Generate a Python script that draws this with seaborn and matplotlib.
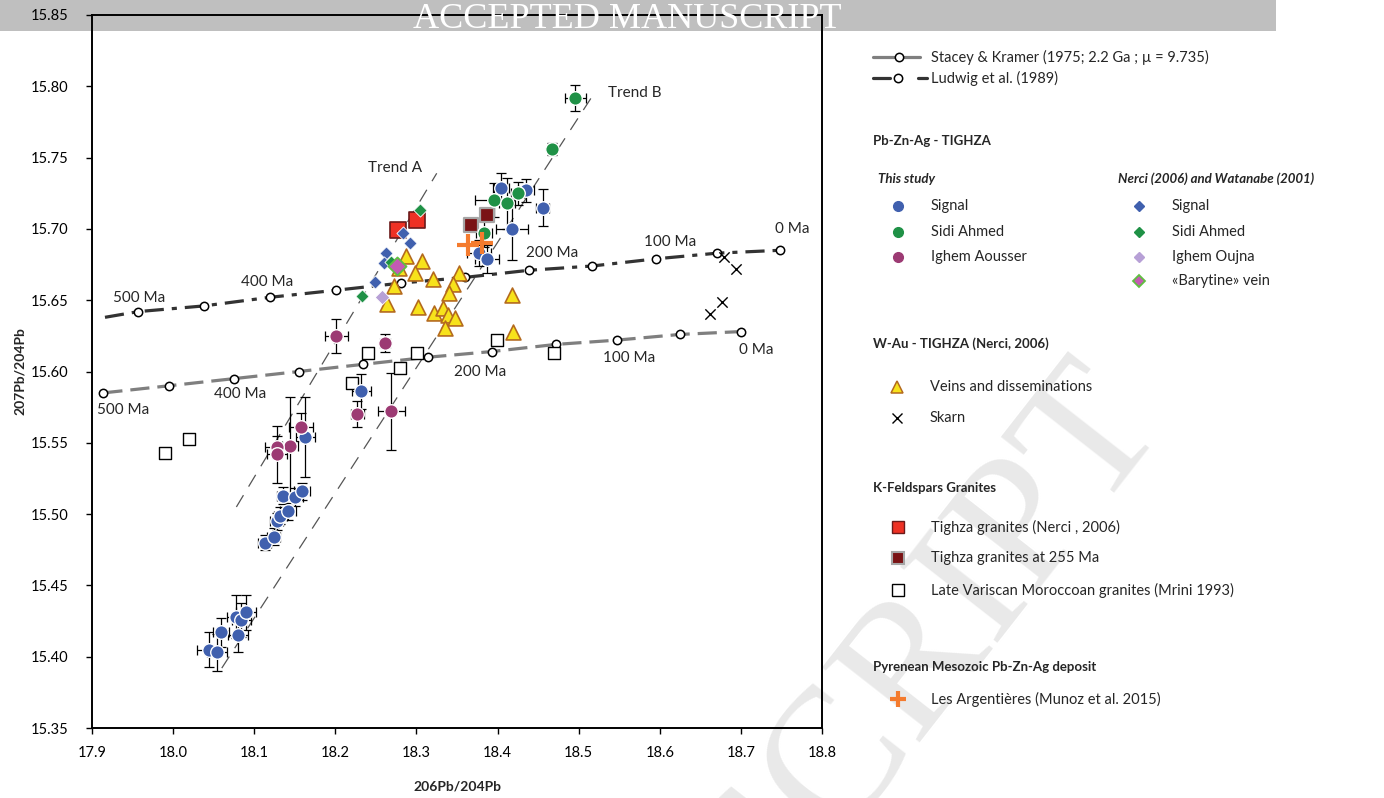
import numpy as np
import pandas as pd
import matplotlib.pyplot as plt
import seaborn as sns
from matplotlib.patches import Rectangle

# Pb growth curves, 500 Ma -> 0 Ma, 50 Ma steps
sk_x = [17.914, 17.995, 18.075, 18.155, 18.234, 18.314, 18.393, 18.472, 18.547, 18.625, 18.700]
sk_y = [15.585, 15.590, 15.595, 15.600, 15.605, 15.610, 15.614, 15.619, 15.622, 15.626, 15.628]
lud_x = [17.916, 17.957, 18.038, 18.119, 18.201, 18.281, 18.360, 18.439, 18.517, 18.595, 18.671, 18.748]
lud_y = [15.638, 15.642, 15.646, 15.652, 15.657, 15.662, 15.666, 15.671, 15.674, 15.679, 15.683, 15.685]

sk_labels = ["500 Ma", "400 Ma", "200 Ma", "100 Ma", "0 Ma"]
sk_lab_x = [17.938, 18.083, 18.378, 18.562, 18.719]
sk_lab_y = [15.573, 15.584, 15.600, 15.6095, 15.615]
lud_labels = ["500 Ma", "400 Ma", "200 Ma", "100 Ma", "0 Ma"]
lud_lab_x = [17.958, 18.116, 18.467, 18.613, 18.763]
lud_lab_y = [15.6515, 15.663, 15.683, 15.691, 15.700]

# trend lines (end points)
trendA_x = [18.078, 18.325]
trendA_y = [15.505, 15.739]
trendB_x = [18.060, 18.519]
trendB_y = [15.392, 15.795]

# This study - Signal
sig_x = [18.044, 18.054, 18.059, 18.080, 18.078, 18.084, 18.090,
         18.113, 18.124, 18.128, 18.132, 18.142, 18.136, 18.150, 18.159, 18.163, 18.232,
         18.404, 18.435, 18.456, 18.418, 18.377, 18.387]
sig_y = [15.405, 15.403, 15.417, 15.415, 15.428, 15.426, 15.431,
         15.480, 15.484, 15.495, 15.499, 15.502, 15.513, 15.512, 15.516, 15.554, 15.586,
         15.729, 15.727, 15.715, 15.700, 15.683, 15.679]
sig_xerr = [0.015, 0.012, 0.010, 0.012, 0.012, 0.012, 0.012,
            0.008, 0.008, 0.008, 0.008, 0.010, 0.008, 0.010, 0.010, 0.012, 0.012,
            0.010, 0.010, 0.008, 0.020, 0.015, 0.015]
sig_yerr = [0.012, 0.013, 0.010, 0.012, 0.015, 0.012, 0.012,
            0.005, 0.006, 0.006, 0.006, 0.006, 0.006, 0.006, 0.006, 0.028, 0.012,
            0.010, 0.008, 0.013, 0.022, 0.009, 0.010]

# This study - Sidi Ahmed
sa_x = [18.496, 18.467, 18.396, 18.412, 18.425, 18.383]
sa_y = [15.792, 15.756, 15.720, 15.718, 15.725, 15.697]
sa_xerr = [0.013, 0.005, 0.024, 0.010, 0.008, 0.010]
sa_yerr = [0.009, 0.004, 0.012, 0.018, 0.008, 0.010]

# This study - Ighem Aousser
ia_x = [18.201, 18.261, 18.227, 18.269, 18.158, 18.144, 18.128, 18.128]
ia_y = [15.625, 15.620, 15.570, 15.572, 15.561, 15.548, 15.547, 15.542]
ia_xerr = [0.014, 0.006, 0.008, 0.017, 0.015, 0.010, 0.015, 0.012]
ia_yerr = [0.012, 0.0065, 0.009, 0.027, 0.010, 0.034, 0.008, 0.020]

# Nerci (2006) and Watanabe (2001)
ns_x = [18.284, 18.292, 18.263, 18.260, 18.249]
ns_y = [15.697, 15.690, 15.683, 15.676, 15.663]
nsa_x = [18.304, 18.233, 18.269]
nsa_y = [15.713, 15.653, 15.677]
io_x = [18.258]
io_y = [15.652]
bar_x = [18.276]
bar_y = [15.674]

# W-Au Tighza
vein_x = [18.287, 18.307, 18.298, 18.279, 18.272, 18.321, 18.353, 18.345, 18.340,
          18.264, 18.302, 18.322, 18.333, 18.339, 18.348, 18.335, 18.418, 18.419]
vein_y = [15.681, 15.6775, 15.669, 15.6725, 15.660, 15.665, 15.669, 15.6615, 15.655,
          15.647, 15.645, 15.641, 15.6445, 15.6395, 15.6375, 15.6305, 15.6535, 15.6275]
skarn_x = [18.679, 18.694, 18.677, 18.662]
skarn_y = [15.680, 15.672, 15.649, 15.640]

# K-feldspar granites
tg_x = [18.301, 18.277]
tg_y = [15.706, 15.699]
tg255_x = [18.387, 18.367]
tg255_y = [15.710, 15.703]
lv_x = [17.990, 18.020, 18.221, 18.240, 18.280, 18.301, 18.399, 18.470]
lv_y = [15.543, 15.553, 15.592, 15.613, 15.6025, 15.613, 15.622, 15.613]

# Les Argentieres
arg_x = [18.364, 18.381]
arg_y = [15.689, 15.690]

xticks = [17.9, 18.0, 18.1, 18.2, 18.3, 18.4, 18.5, 18.6, 18.7, 18.8]
yticks = [15.35, 15.40, 15.45, 15.50, 15.55, 15.60, 15.65, 15.70, 15.75, 15.80, 15.85]

BLUE = '#4060AE'
GREEN = '#1F9146'
MAG = '#9C3A73'
YEL = '#F7E21B'
YEL_E = '#B46A1E'
RED = '#EE3124'
DRED = '#7A1315'
ORANGE = '#F47B2E'
LAV = '#B7A0D6'
BARY = '#C45AB3'
BARY_E = '#5FBF40'

sns.set_style("ticks")
plt.rcParams['font.family'] = ['Lato', 'DejaVu Sans']

W, H = 1384, 798
fig = plt.figure(figsize=(W / 100, H / 100), dpi=100)
fig.patches.append(Rectangle((0, 1 - 31 / H), 1276 / W, 31 / H, transform=fig.transFigure,
                             facecolor='#BFBFBF', edgecolor='none', zorder=-5))
fig.text(627 / W, 1 - 28 / H, "ACCEPTED MANUSCRIPT", color='white', fontsize=26,
         family='Liberation Serif', ha='center', va='baseline', zorder=5)

# watermark, behind everything
fig.text(1168 / W, 1 - 425 / H, "ACCEPTED MANUSCRIPT", color='#E9E9E9', fontsize=136,
         family='Liberation Serif', rotation=52, rotation_mode='anchor', ha='right', va='baseline', zorder=-4)

ax = fig.add_axes([92 / W, 1 - 728 / H, (822 - 92) / W, (728 - 15) / H])
ax.set_facecolor('none')

# growth curves
ax.plot(sk_x, sk_y, color='#7F7F7F', lw=2.3, dashes=(6, 2.5), zorder=2)
ax.plot(sk_x, sk_y, ls='none', marker='o', ms=6, mfc='white', mec='black', mew=1.1, zorder=2.5)
ax.plot(lud_x, lud_y, color='#333333', lw=2.3, dashes=(6, 2.5, 1.6, 2.5), zorder=2)
ax.plot(lud_x[1:], lud_y[1:], ls='none', marker='o', ms=6, mfc='white', mec='black', mew=1.1, zorder=2.5)
for t, x, y in zip(sk_labels, sk_lab_x, sk_lab_y):
    ax.text(x, y, t, fontsize=11, ha='center', va='center')
for t, x, y in zip(lud_labels, lud_lab_x, lud_lab_y):
    ax.text(x, y, t, fontsize=11, ha='center', va='center')

# trends
ax.plot(trendA_x, trendA_y, color='#555555', lw=0.9, dashes=(11, 8), zorder=1.5)
ax.plot(trendB_x, trendB_y, color='#555555', lw=0.9, dashes=(11, 8), zorder=1.5)
ax.text(18.2736, 15.7427, "Trend A", fontsize=11, ha='center', va='center')
ax.text(18.5695, 15.7953, "Trend B", fontsize=11, ha='center', va='center')

# error bars
for xs, ys, xe, ye in [(sig_x, sig_y, sig_xerr, sig_yerr), (sa_x, sa_y, sa_xerr, sa_yerr),
                       (ia_x, ia_y, ia_xerr, ia_yerr)]:
    ax.errorbar(xs, ys, xerr=xe, yerr=ye, fmt='none', ecolor='black', elinewidth=0.9,
                capsize=3.5, capthick=0.9, zorder=3)

# points
sns.scatterplot(x=lv_x, y=lv_y, marker='s', s=80, facecolor='white', edgecolor='black', linewidth=1, ax=ax, zorder=4)
sns.scatterplot(x=skarn_x, y=skarn_y, marker='x', s=55, color='black', linewidth=1, ax=ax, zorder=4)
sns.scatterplot(x=vein_x, y=vein_y, marker='^', s=115, color=YEL, edgecolor=YEL_E, linewidth=1.2, ax=ax, zorder=4)
sns.scatterplot(x=tg_x, y=tg_y, marker='s', s=130, color=RED, edgecolor='#6B1A1A', linewidth=1.2, ax=ax, zorder=4)
sns.scatterplot(x=tg255_x, y=tg255_y, marker='s', s=115, color=DRED, edgecolor='#A6A6A6', linewidth=1.6, ax=ax, zorder=4)
sns.scatterplot(x=sig_x, y=sig_y, marker='o', s=95, color=BLUE, edgecolor='white', linewidth=1, ax=ax, zorder=5)
sns.scatterplot(x=sa_x, y=sa_y, marker='o', s=95, color=GREEN, edgecolor='white', linewidth=1, ax=ax, zorder=5)
sns.scatterplot(x=ia_x, y=ia_y, marker='o', s=95, color=MAG, edgecolor='white', linewidth=1, ax=ax, zorder=5)
sns.scatterplot(x=ns_x, y=ns_y, marker='D', s=45, color=BLUE, edgecolor='white', linewidth=0.6, ax=ax, zorder=6)
sns.scatterplot(x=nsa_x, y=nsa_y, marker='D', s=45, color=GREEN, edgecolor='white', linewidth=0.6, ax=ax, zorder=6)
sns.scatterplot(x=io_x, y=io_y, marker='D', s=55, color=LAV, edgecolor='white', linewidth=0.6, ax=ax, zorder=6)
sns.scatterplot(x=bar_x, y=bar_y, marker='D', s=85, color=BARY, edgecolor=BARY_E, linewidth=1.3, ax=ax, zorder=6)
sns.scatterplot(x=arg_x, y=arg_y, marker='+', s=240, color=ORANGE, linewidth=3, ax=ax, zorder=6)

ax.set_xlim(17.9, 18.8)
ax.set_ylim(15.35, 15.85)
ax.set_xticks(xticks)
ax.set_xticklabels([f"{v:.1f}" for v in xticks])
ax.set_yticks(yticks)
ax.set_yticklabels([f"{v:.2f}" for v in yticks])
ax.tick_params(direction='out', length=4, width=1, labelsize=10.5, colors='black')
ax.tick_params(axis='y', pad=13)
ax.tick_params(axis='x', pad=9)
for s in ax.spines.values():
    s.set_visible(True)
    s.set_linewidth(1.4)
    s.set_color('black')
ax.set_xlabel("206Pb/204Pb", fontsize=10, fontweight='bold', labelpad=15)
ax.set_ylabel("207Pb/204Pb", fontsize=10, fontweight='bold', labelpad=3)

# legend panel (pixel coordinates)
lax = fig.add_axes([0, 0, 1, 1], zorder=2)
lax.set_xlim(0, W)
lax.set_ylim(H, 0)
lax.axis('off')
lax.patch.set_alpha(0)

def item(x, y, text, **mk):
    lax.plot([x], [y], ls='none', **mk)
    lax.text(x + 33, y, text, fontsize=10.5, va='center', ha='left')

lax.plot([873, 920], [57, 57], color='#7F7F7F', lw=2.3)
lax.plot([899], [57], marker='o', ms=6, mfc='white', mec='black', mew=1.1)
lax.text(931, 57, "Stacey & Kramer (1975; 2.2 Ga ; µ = 9.735)", fontsize=10.5, va='center')
lax.plot([873, 890], [78, 78], color='#333333', lw=2.3)
lax.plot([918, 927], [78, 78], color='#333333', lw=2.3)
lax.plot([898], [78], marker='o', ms=6, mfc='white', mec='black', mew=1.1)
lax.text(931, 78, "Ludwig et al. (1989)", fontsize=10.5, va='center')

hdr = dict(fontsize=9.5, fontweight='bold', va='center')
lax.text(873, 141, "Pb-Zn-Ag - TIGHZA", **hdr)
lax.text(878, 179, "This study", style='italic', **hdr)
lax.text(1118, 179, "Nerci (2006) and Watanabe (2001)", style='italic', **hdr)
item(898, 206, "Signal", marker='o', ms=7, mfc=BLUE, mec=BLUE)
item(898, 232, "Sidi Ahmed", marker='o', ms=7, mfc=GREEN, mec=GREEN)
item(898, 257, "Ighem Aousser", marker='o', ms=7, mfc=MAG, mec=MAG)
item(1139, 206, "Signal", marker='D', ms=5.5, mfc=BLUE, mec=BLUE)
item(1139, 232, "Sidi Ahmed", marker='D', ms=5.5, mfc=GREEN, mec=GREEN)
item(1139, 257, "Ighem Oujna", marker='D', ms=5.5, mfc=LAV, mec=LAV)
item(1139, 281, "«Barytine» vein", marker='D', ms=6, mfc=BARY, mec=BARY_E, mew=1.3)

lax.text(873, 344, "W-Au - TIGHZA (Nerci, 2006)", **hdr)
item(897, 387, "Veins and disseminations", marker='^', ms=9, mfc=YEL, mec=YEL_E, mew=1.1)
item(897, 418, "Skarn", marker='x', ms=7, mec='black', mew=1)

lax.text(873, 488, "K-Feldspars Granites", **hdr)
item(898, 527, "Tighza granites (Nerci , 2006)", marker='s', ms=9, mfc=RED, mec='#6B1A1A', mew=1)
item(898, 558, "Tighza granites at 255 Ma", marker='s', ms=9, mfc=DRED, mec='#A6A6A6', mew=1.5)
item(898, 590, "Late Variscan Moroccoan granites (Mrini 1993)", marker='s', ms=8.5, mfc='white', mec='black', mew=1)

lax.text(873, 667, "Pyrenean Mesozoic Pb-Zn-Ag deposit", **hdr)
item(898, 699, "Les Argentières (Munoz et al. 2015)", marker='+', ms=12, mec=ORANGE, mew=3)

fig.savefig("out.png", dpi=100)
